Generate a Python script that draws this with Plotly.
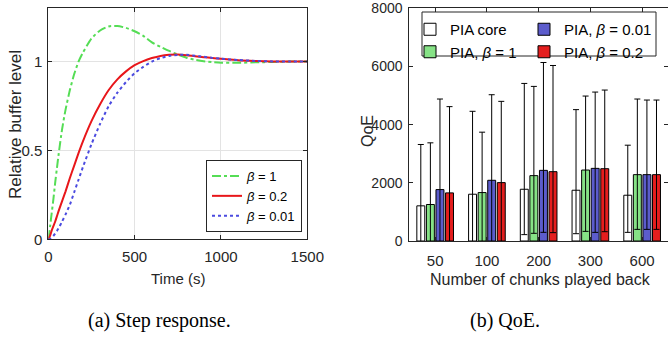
import plotly.graph_objects as go

W, H = 668, 337

# ---------------- data: step response ----------------
time_s = [0, 10, 20, 30, 40, 50, 60, 80, 100, 125, 150, 175, 200, 250, 300, 350, 400,
          450, 500, 550, 600, 650, 700, 750, 800, 850, 900, 950, 1000, 1100, 1200, 1300, 1400, 1500]
beta_1 = [0, 0.07, 0.15, 0.23, 0.32, 0.40, 0.48, 0.62, 0.73, 0.84, 0.93, 1.0, 1.05, 1.13, 1.175,
          1.198, 1.2, 1.19, 1.171, 1.145, 1.108, 1.083, 1.06, 1.04, 1.022, 1.01, 1.002, 0.997,
          0.994, 0.993, 0.996, 0.998, 1.0, 1.0]
beta_02 = [0, 0.02, 0.05, 0.075, 0.10, 0.13, 0.16, 0.215, 0.27, 0.345, 0.415, 0.485, 0.55, 0.665,
           0.76, 0.84, 0.9, 0.945, 0.98, 1.003, 1.02, 1.032, 1.038, 1.04, 1.036, 1.03, 1.025, 1.02,
           1.016, 1.008, 1.004, 1.001, 1.0, 1.0]
beta_001 = [0, 0.003, 0.01, 0.02, 0.033, 0.047, 0.063, 0.10, 0.14, 0.195, 0.265, 0.335, 0.405,
            0.535, 0.65, 0.75, 0.825, 0.885, 0.935, 0.97, 1.0, 1.02, 1.032, 1.038, 1.038, 1.033,
            1.027, 1.021, 1.016, 1.009, 1.004, 1.001, 1.0, 1.0]

# ---------------- data: QoE ----------------
chunks = ["50", "100", "200", "300", "600"]
core_mean = [1209, 1608, 1779, 1745, 1574]
core_upper = [3318, 4459, 5417, 4516, 3294]
core_lower = [-900, -1240, 219, 251, 297]
b1_mean = [1255, 1665, 2247, 2440, 2281]
b1_upper = [3375, 3741, 5315, 4983, 4881]
b1_lower = [-865, -410, 264, 331, 400]
b001_mean = [1768, 2087, 2429, 2497, 2281]
b001_upper = [4881, 5029, 6137, 5120, 4846]
b001_lower = [-1345, -855, 298, 297, 400]
b02_mean = [1654, 2007, 2384, 2486, 2281]
b02_upper = [4619, 4801, 6034, 5189, 4846]
b02_lower = [-1311, -787, 287, 320, 400]


def px(x):
    return x / W


def py(y):
    return (H - y) / H


SANS = "Liberation Sans, Arial, sans-serif"
SERIF = "Liberation Serif, Times New Roman, serif"
AX = "#262626"

fig = go.Figure()

line_specs = [
    ("<i>β</i> = 1", beta_1, dict(color="#55DD55", width=2, dash="dashdot")),
    ("<i>β</i> = 0.2", beta_02, dict(color="#E8161A", width=2, dash="solid")),
    ("<i>β</i> = 0.01", beta_001, dict(color="#4B4BE0", width=2, dash="dot")),
]
for name, vals, ln in line_specs:
    fig.add_trace(go.Scatter(x=time_s, y=vals, mode="lines", name=name,
                             line=dict(shape="spline", smoothing=0.6, **ln),
                             xaxis="x", yaxis="y", legend="legend"))


def err(mean, upper, lower):
    return dict(type="data", symmetric=False,
                array=[u - m for u, m in zip(upper, mean)],
                arrayminus=[m - l for m, l in zip(mean, lower)],
                color="black", thickness=1, width=3)


bar_specs = [
    ("PIA core", core_mean, core_upper, core_lower, "white", "legend2", 1),
    ("PIA, <i>β</i> = 1", b1_mean, b1_upper, b1_lower, "#86E286", "legend2", 2),
    ("PIA, <i>β</i> = 0.01", b001_mean, b001_upper, b001_lower, "#5C5CCC", "legend3", 3),
    ("PIA, <i>β</i> = 0.2", b02_mean, b02_upper, b02_lower, "#E41E1E", "legend3", 4),
]
for name, m, u, l, col, lg, rank in bar_specs:
    fig.add_trace(go.Bar(x=chunks, y=m, name=name, marker=dict(color=col, line=dict(color="black", width=1)),
                         error_y=err(m, u, l), xaxis="x2", yaxis="y2", legend=lg, legendrank=rank))

common = dict(zeroline=False, showline=True, linecolor=AX, linewidth=1, mirror="ticks",
              ticks="inside", ticklen=4, tickcolor=AX, automargin=False, ticklabeloverflow="allow")


def ann(text, x, y, size, family=SANS, angle=0, color=AX):
    return dict(text=text, x=px(x), y=py(y), xref="paper", yref="paper", xanchor="center",
                yanchor="middle", textangle=angle, showarrow=False,
                font=dict(family=family, size=size, color=color))


fig.update_layout(
    width=W, height=H, margin=dict(l=0, r=0, t=0, b=0, autoexpand=False),
    paper_bgcolor="white", plot_bgcolor="white",
    barmode="group", bargap=0.26, bargroupgap=0.17,
    showlegend=True,
    xaxis=dict(domain=[px(48.3), px(307.3)], range=[0, 1500], tickvals=[0, 500, 1000, 1500],
               showgrid=True, gridcolor="#E3E3E3", gridwidth=1, ticklabelstandoff=4,
               tickfont=dict(family=SANS, size=15, color=AX), anchor="y", **common),
    yaxis=dict(domain=[py(239.3), py(8.3)], range=[0, 1.3], tickvals=[0, 0.5, 1],
               ticktext=["0", "0.5", "1"],
               showgrid=True, gridcolor="#E3E3E3", gridwidth=1, ticklabelstandoff=2,
               tickfont=dict(family=SANS, size=15, color=AX), anchor="x", **common),
    xaxis2=dict(domain=[px(409.3), 1.0], range=[-0.5, 4.5], type="category",
                showgrid=False, ticklabelstandoff=6,
                tickfont=dict(family=SANS, size=15, color=AX), anchor="y2", **common),
    yaxis2=dict(domain=[py(241), py(8.3)], range=[0, 8000], tickvals=[0, 2000, 4000, 6000, 8000],
                showgrid=False, ticklabelstandoff=3,
                tickfont=dict(family=SANS, size=14, color=AX), anchor="x2", **common),
    legend=dict(x=px(302), y=py(232), xanchor="right", yanchor="bottom",
                bgcolor="white", bordercolor=AX, borderwidth=1,
                font=dict(family=SANS, size=13, color="black"),
                itemwidth=30, tracegroupgap=0),
    legend2=dict(x=px(410), y=py(13), xanchor="left", yanchor="top",
                 bgcolor="rgba(0,0,0,0)", borderwidth=0,
                 font=dict(family=SANS, size=15, color="black"),
                 itemwidth=30, tracegroupgap=0),
    legend3=dict(x=px(524), y=py(13), xanchor="left", yanchor="top",
                 bgcolor="rgba(0,0,0,0)", borderwidth=0,
                 font=dict(family=SANS, size=15, color="black"),
                 itemwidth=30, tracegroupgap=0),
    shapes=[dict(type="rect", xref="paper", yref="paper", x0=px(422), x1=px(656),
                 y0=py(56), y1=py(12), line=dict(color=AX, width=1), fillcolor="white", layer="below")],
    annotations=[
        ann("Relative buffer level", 15, 125, 17, angle=-90),
        ann("Time (s)", 178, 278, 15),
        ann("QoE", 367, 131, 16, angle=-90),
        ann("Number of chunks played back", 540, 279, 16),
        ann("(a) Step response.", 159, 320, 20, family=SERIF, color="black"),
        ann("(b) QoE.", 505, 320, 20, family=SERIF, color="black"),
    ],
)

fig.write_html("out.html", config={"displayModeBar": False},
               post_script="document.body.style.margin='0';document.body.style.padding='0';")
